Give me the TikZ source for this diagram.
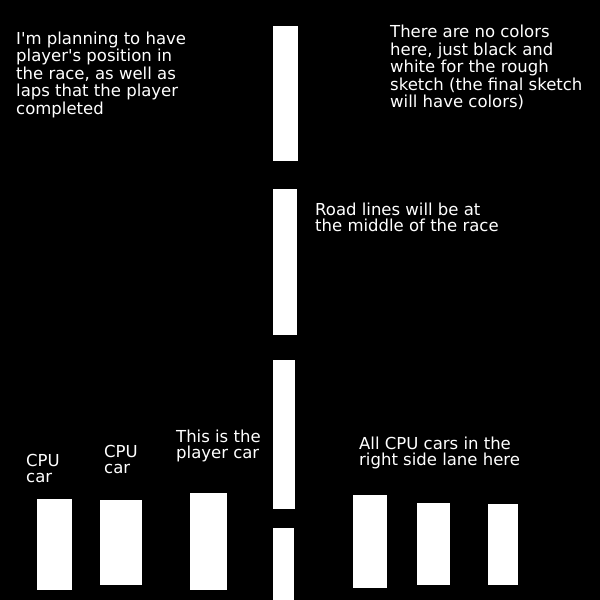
\documentclass[tikz,border=0pt]{standalone}
\usepackage{fontspec}
\setmainfont{DejaVu Sans}
\begin{document}
\begin{tikzpicture}[x=1pt,y=-1pt]
            \tikzset{note/.style={text=white,align=left,inner sep=0pt,anchor=base west,font=\fontsize{16.5}{17.5}\selectfont},
                     tag/.style={note,font=\fontsize{16.5}{16}\selectfont}}
            \useasboundingbox (0,0) rectangle (600,600);
            \fill[black] (0,0) rectangle (600,600);
            % road lines in the middle
            \begin{scope}[white]
                \fill (273,26) rectangle (298,161);
                \fill (273,189) rectangle (297,335);
                \fill (273,360) rectangle (295,509);
                \fill (273,528) rectangle (294,600);
            \end{scope}
            % cars
            \begin{scope}[white]
                \fill (37,499) rectangle (72,590);
                \fill (100,500) rectangle (142,585);
                \fill (190,493) rectangle (227,590);
                \fill (353,495) rectangle (387,588);
                \fill (417,503) rectangle (450,585);
                \fill (488,504) rectangle (518,585);
            \end{scope}
            % base anchor sits on the last line
            \begin{scope}[every node/.style={note}]
                \node (hud) at (16,114) {I\textquotesingle m planning to have\\player\textquotesingle s position in\\the race, as well as\\laps that the player\\completed};
                \node (colors) at (390,107.5) {There are no colors\\here, just black and\\white for the rough\\sketch (the final sketch\\will have colors)};
                \node[font=\fontsize{16.5}{16.7}\selectfont] (road) at (315,231.7) {Road lines will be at\\the middle of the race};
            \end{scope}
            \begin{scope}[every node/.style={tag}]
                \node (cpu1) at (26,482) {CPU\\car};
                \node (cpu2) at (104,473.3) {CPU\\car};
                \node (player) at (176,458) {This is the\\player car};
                \node (cpuright) at (359,465) {All CPU cars in the\\right side lane here};
            \end{scope}
        \end{tikzpicture}
\end{document}
